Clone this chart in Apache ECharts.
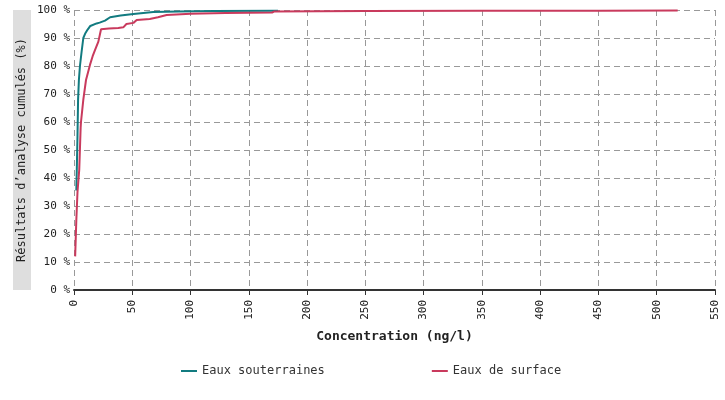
<!DOCTYPE html>
<html>
<head>
<meta charset="utf-8">
<script src="https://cdn.jsdelivr.net/npm/echarts@6/dist/echarts.min.js"></script>
<style>
  html, body { margin: 0; padding: 0; background: #fff; }
  #main { width: 725px; height: 400px; }
</style>
</head>
<body>
<div id="main"></div>
<script>
// concentration (ng/l) / cumulated share (%)
const souterrainesConc = [2, 2.5, 3, 3.5, 4.2, 5.1, 6.5, 8, 9.5, 11.7, 14, 19.4, 22, 26.6, 31, 40, 51, 68, 90, 120, 175]
const souterrainesPct = [35.5, 45, 55, 68, 75, 80, 85, 90, 91.5, 93, 94.3, 95.2, 95.5, 96.2, 97.4, 98, 98.6, 99.3, 99.5, 99.6, 99.7]

const surfaceConc = [1, 2, 3, 4.5, 5.7, 6, 8, 10.3, 13.7, 16, 18, 20.9, 23.2, 30, 38, 42.3, 45, 51, 53.8, 65, 72, 79.5, 100, 130, 170, 172, 250, 350, 450, 518]
const surfacePct = [12, 25, 35, 43, 58, 60, 68, 75, 80.4, 83.5, 85.7, 88.7, 93.1, 93.4, 93.6, 93.8, 95, 95.4, 96.4, 96.8, 97.4, 98.2, 98.7, 98.9, 99.1, 99.5, 99.6, 99.7, 99.7, 99.8]

const seriesNames = ['Eaux souterraines', 'Eaux de surface']
const colors = ['#127b80', '#c93a5d']

const zip = (xs, ys) => xs.map((x, i) => [x, ys[i]])

const font = 'DejaVu Sans Mono'
const chart = echarts.init(document.getElementById('main'))

chart.setOption({
  animation: false,
  textStyle: { fontFamily: font },
  color: colors,
  grid: { left: 74, right: 10, top: 10, bottom: 110 },
  legend: {
    bottom: 18,
    left: 176,
    itemGap: 107,
    itemWidth: 16,
    itemHeight: 2,
    icon: 'rect',
    textStyle: { fontFamily: font, fontSize: 12, color: '#333' },
    data: seriesNames
  },
  xAxis: {
    type: 'value',
    min: 0,
    max: 550,
    interval: 50,
    name: 'Concentration (ng/l)',
    nameLocation: 'middle',
    nameGap: 40,
    nameMoveOverlap: false,
    nameTextStyle: { fontFamily: font, fontSize: 13, fontWeight: 'bold', color: '#222' },
    axisLine: { show: true, onZero: false, lineStyle: { color: '#333', width: 2 } },
    axisTick: { show: true, length: 5, lineStyle: { color: '#333' } },
    axisLabel: { rotate: 90, fontSize: 11, color: '#222', margin: 10 },
    splitLine: { show: true, lineStyle: { color: '#999', type: [6, 4] } }
  },
  yAxis: {
    type: 'value',
    min: 0,
    max: 100,
    interval: 10,
    name: '{box|R\u00e9sultats d\u2019analyse cumul\u00e9s (%)}',
    nameLocation: 'middle',
    nameRotate: 90,
    nameGap: 43,
    nameMoveOverlap: false,
    nameTextStyle: {
      fontFamily: font,
      fontSize: 12,
      color: '#222',
      rich: {
        box: {
          fontFamily: font,
          fontSize: 12,
          color: '#222',
          backgroundColor: '#dedede',
          width: 280,
          height: 18,
          lineHeight: 18,
          align: 'center'
        }
      }
    },
    axisLine: { show: false },
    axisTick: { show: false },
    axisLabel: { formatter: '{value} %', fontSize: 11, color: '#222', margin: 4 },
    splitLine: { show: true, lineStyle: { color: '#999', type: [6, 4] } }
  },
  series: [
    {
      name: seriesNames[0],
      type: 'line',
      symbol: 'none',
      lineStyle: { width: 2 },
      data: zip(souterrainesConc, souterrainesPct)
    },
    {
      name: seriesNames[1],
      type: 'line',
      symbol: 'none',
      lineStyle: { width: 2 },
      data: zip(surfaceConc, surfacePct)
    }
  ]
})
</script>
</body>
</html>
